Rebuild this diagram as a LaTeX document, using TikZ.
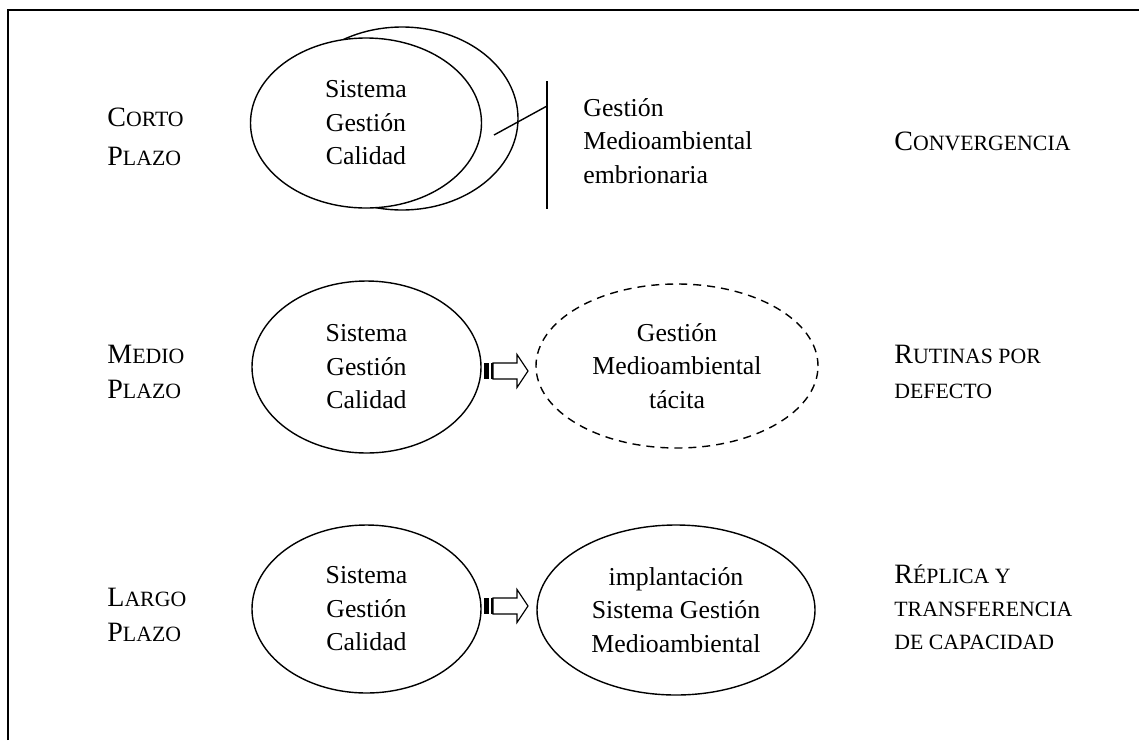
\documentclass[tikz,border=0pt]{standalone}
\usepackage{fontspec}
\setmainfont{Liberation Serif}
\usetikzlibrary{shapes.geometric}

% versalitas hechas a mano: inicial grande, resto pequeno
\newcommand{\vers}[2]{{\fontsize{14}{16}\selectfont #1}#2}

% flecha de bloque con rayas en la cola
\newcommand{\flecharayada}[1]{%
  \fill[shift={(#1)}] (0,-8) rectangle (5,8);
  \draw[shift={(#1)}, line width=0.6pt] (8,-8) -- (8,8);
  \draw[shift={(#1)}, line width=0.6pt, line join=miter]
    (9,-8) -- (33,-8) -- (33,-16.5) -- (44,0) -- (33,16.5) -- (33,8) -- (9,8) -- cycle;
}

\begin{document}
\begin{tikzpicture}
 [ x=0.5pt
 , y=-0.5pt
 , elipse/.style={ellipse, draw, line width=0.7pt, inner sep=0pt, align=center,
                  font=\fontsize{12.9}{16.75}\selectfont}
 , tenue/.style={dash pattern=on 4pt off 3pt}
 , texto/.style={inner sep=0pt, anchor=west, align=left,
                 font=\fontsize{12.9}{16.75}\selectfont}
 , etiqueta/.style={inner sep=0pt, anchor=west, align=left,
                    font=\fontsize{10.9}{17.5}\selectfont}
 ]
  \useasboundingbox (0,0) rectangle (1139,740);
  \draw[line width=1pt] (8,740) -- (8,10) -- (1139,10);

  % corto plazo
  \node[elipse, fill=white, minimum width=116pt, minimum height=91.5pt] (cal1b) at (402,118.5) {};
  \node[elipse, fill=white, minimum width=115.5pt, minimum height=85pt] (cal1) at (366,123)
    {Sistema\\Gestión\\Calidad};
  \coordinate (barra sup) at (547,81);
  \coordinate (barra inf) at (547,209);
  \coordinate (toque) at (547,106);
  \coordinate (trazo) at (494,135);
  \draw[line width=0.7pt] (barra sup) -- (barra inf);
  \draw[line width=0.7pt] (trazo) -- (toque);
  \node[texto] (gma1) at (583,141) {Gestión\\Medioambiental\\embrionaria};
  \node[etiqueta] (corto) at (107,137) {\vers{C}{ORTO}\\[2pt]\vers{P}{LAZO}};
  \node[etiqueta] (conv) at (894,141) {\vers{C}{ONVERGENCIA}};

  % medio plazo
  \node[elipse, minimum width=114.5pt, minimum height=86pt] (cal2) at (366.5,367)
    {Sistema\\Gestión\\Calidad};
  \flecharayada{484,371}
  \node[elipse, tenue, minimum width=141pt, minimum height=82pt] (gma2) at (677,366)
    {Gestión\\Medioambiental\\tácita};
  \node[etiqueta] (medio) at (107,372) {\vers{M}{EDIO}\\\vers{P}{LAZO}};
  \node[etiqueta] (rutinas) at (894,372) {\vers{R}{UTINAS POR}\\DEFECTO};

  % largo plazo
  \node[elipse, minimum width=114.5pt, minimum height=84pt] (cal3) at (366.5,609)
    {Sistema\\Gestión\\Calidad};
  \flecharayada{484,606}
  \node[elipse, minimum width=139pt, minimum height=85pt] (gma3) at (676,610)
    {implantación\\Sistema Gestión\\Medioambiental};
  \node[etiqueta] (largo) at (107,615) {\vers{L}{ARGO}\\\vers{P}{LAZO}};
  \node[etiqueta, font=\fontsize{10.9}{16.5}\selectfont] (replica) at (894,607)
    {\vers{R}{ÉPLICA Y}\\TRANSFERENCIA\\DE CAPACIDAD};
\end{tikzpicture}
\end{document}
